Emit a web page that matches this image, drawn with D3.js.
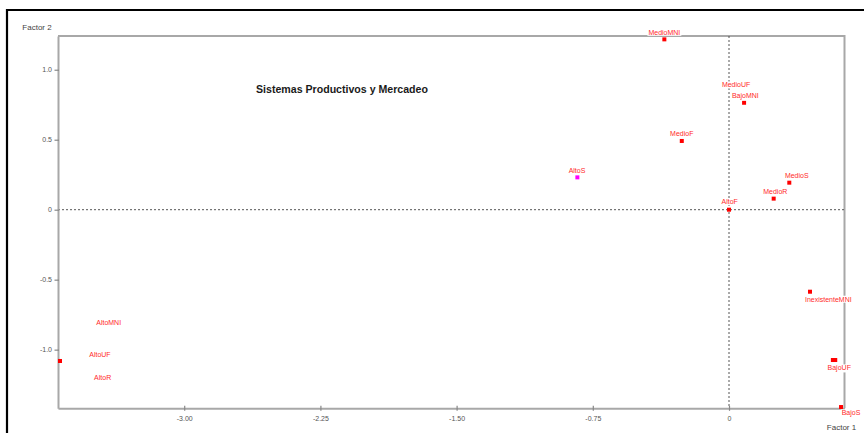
<!DOCTYPE html>
<html>
<head>
<meta charset="utf-8">
<script src="https://cdn.jsdelivr.net/npm/d3@7"></script>
<style>
  html, body { margin: 0; padding: 0; background: #fff; }
  svg { display: block; }
  text { font-family: "Liberation Sans", Arial, sans-serif; }
</style>
</head>
<body>
<svg id="chart" width="864" height="433"></svg>
<script>
// ---- data ----
const title = "Sistemas Productivos y Mercadeo";
const xAxisLabel = "Factor 1";
const yAxisLabel = "Factor 2";

const categories = ["MedioMNI", "MedioUF", "BajoMNI", "MedioF", "AltoS", "MedioS", "MedioR", "AltoF",
                    "InexistenteMNI", "BajoUF", "", "BajoS", "AltoMNI", "AltoUF", "AltoR"];
const factor1 = [-0.356, 0.039, 0.083, -0.260, -0.835, 0.332, 0.246, 0.000,
                 0.446, 0.572, 0.585, 0.617, -3.684, -3.684, -3.684];
const factor2 = [1.217, 0.812, 0.764, 0.491, 0.231, 0.193, 0.079, 0.000,
                 -0.586, -1.074, -1.074, -1.410, -1.081, -1.081, -1.081];
const labelF1 = [-0.356, 0.039, 0.090, -0.260, -0.837, 0.373, 0.255, 0.004,
                 0.547, 0.607, null, 0.672, -3.416, -3.464, -3.449];
const labelF2 = [1.267, 0.891, 0.812, 0.546, 0.279, 0.246, 0.131, 0.057,
                 -0.640, -1.131, null, -1.452, -0.807, -1.033, -1.202];
const groups = ["main", "main", "main", "main", "supp", "main", "main", "main",
                "main", "main", "main", "main", "main", "main", "main"];

const xDomain = [-3.695, 0.636];
const yDomain = [-1.419, 1.241];
const xTicks = [-3.0, -2.25, -1.5, -0.75, 0];
const xTickLabels = ["-3.00", "-2.25", "-1.50", "-0.75", "0"];
const yTicks = [-1.0, -0.5, 0, 0.5, 1.0];
const yTickLabels = ["-1.0", "-0.5", "0", "0.5", "1.0"];

// ---- drawing ----
const svg = d3.select("#chart");
const W = 864, H = 433;
const plot = { left: 58, right: 844.5, top: 36, bottom: 408.3 };

const x = d3.scaleLinear().domain(xDomain).range([plot.left, plot.right]);
const y = d3.scaleLinear().domain(yDomain).range([plot.bottom, plot.top]);
const color = d3.scaleOrdinal().domain(["main", "supp"]).range(["#ff0000", "#ff00ff"]);

// outer black frame
svg.append("line").attr("x1", 6).attr("x2", W).attr("y1", 10).attr("y2", 10)
   .attr("stroke", "#000").attr("stroke-width", 2.2);
svg.append("line").attr("x1", 7).attr("x2", 7).attr("y1", 9).attr("y2", H)
   .attr("stroke", "#000").attr("stroke-width", 2.2);

const axisColor = "#a8a8a8";

// plot frame (top / right)
svg.append("path")
   .attr("d", `M${plot.left},${plot.top}H${plot.right}V${plot.bottom}`)
   .attr("fill", "none").attr("stroke", axisColor).attr("stroke-width", 2);

// zero reference lines (dotted)
svg.append("line")
   .attr("x1", plot.left).attr("x2", plot.right)
   .attr("y1", y(0)).attr("y2", y(0))
   .attr("stroke", "#555").attr("stroke-width", 1).attr("stroke-dasharray", "2,2");
svg.append("line")
   .attr("x1", x(0)).attr("x2", x(0))
   .attr("y1", plot.top).attr("y2", plot.bottom)
   .attr("stroke", "#555").attr("stroke-width", 1).attr("stroke-dasharray", "2,2");

// x axis
const xAxis = d3.axisBottom(x).tickValues(xTicks)
  .tickFormat((d, i) => xTickLabels[i]).tickSize(0).tickPadding(8);
const gx = svg.append("g").attr("transform", `translate(0,${plot.bottom})`).call(xAxis);
gx.select(".domain").attr("stroke", axisColor).attr("stroke-width", 2);
gx.selectAll(".tick").append("line")
  .attr("y1", -2.5).attr("y2", 2.5).attr("stroke", "#888").attr("stroke-width", 1.2);
gx.selectAll("text").attr("fill", "#555").attr("font-size", 7)
  .attr("font-family", "Liberation Sans, Arial, sans-serif");

// y axis
const yAxis = d3.axisLeft(y).tickValues(yTicks)
  .tickFormat((d, i) => yTickLabels[i]).tickSize(0).tickPadding(6);
const gy = svg.append("g").attr("transform", `translate(${plot.left},0)`).call(yAxis);
gy.select(".domain").attr("stroke", axisColor).attr("stroke-width", 2);
gy.selectAll(".tick").append("line")
  .attr("x1", -3.5).attr("x2", 1).attr("stroke", "#888").attr("stroke-width", 1.2);
gy.selectAll("text").attr("fill", "#555").attr("font-size", 7)
  .attr("font-family", "Liberation Sans, Arial, sans-serif");

// axis names
svg.append("text").attr("x", 37).attr("y", 30).attr("text-anchor", "middle")
   .attr("font-size", 8).attr("fill", "#444").text(yAxisLabel);
svg.append("text").attr("x", 841.5).attr("y", 430).attr("text-anchor", "middle")
   .attr("font-size", 8).attr("fill", "#444").text(xAxisLabel);

// title
svg.append("text").attr("x", 342).attr("y", 92.5).attr("text-anchor", "middle")
   .attr("font-size", 10.6).attr("font-weight", "bold").attr("fill", "#1a1a1a").text(title);

// points
const pts = categories.map((c, i) => ({
  name: c, f1: factor1[i], f2: factor2[i], lf1: labelF1[i], lf2: labelF2[i], g: groups[i]
}));

const ms = 4;
svg.append("g").selectAll("rect").data(pts).join("rect")
  .attr("x", d => x(d.f1) - ms / 2).attr("y", d => y(d.f2) - ms / 2)
  .attr("width", ms).attr("height", ms)
  .attr("fill", d => color(d.g));

// labels with white background
const lg = svg.append("g");
const labelled = pts.filter(d => d.name && d.lf1 !== null);
const lab = lg.selectAll("g").data(labelled).join("g")
  .attr("transform", d => `translate(${x(d.lf1)},${y(d.lf2)})`);
lab.append("rect").attr("class", "bg").attr("fill", "#fff");
lab.append("text")
  .attr("text-anchor", "middle").attr("dy", "0.35em")
  .attr("font-size", 7).attr("fill", "#ff2a2a")
  .text(d => d.name);
lab.each(function() {
  const t = d3.select(this).select("text").node().getBBox();
  d3.select(this).select("rect")
    .attr("x", t.x - 1).attr("y", t.y).attr("width", t.width + 2).attr("height", t.height);
});
</script>
</body>
</html>
